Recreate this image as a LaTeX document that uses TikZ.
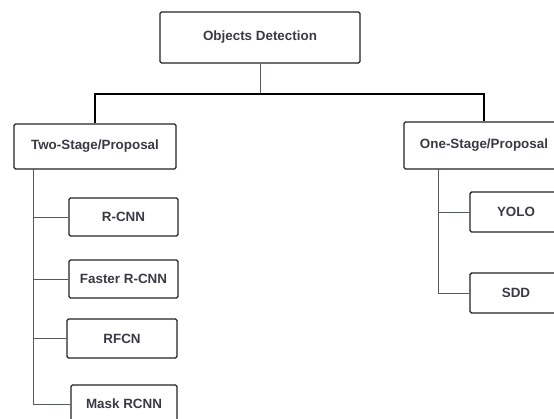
\documentclass[tikz,border=0pt]{standalone}
\usepackage{fontspec}
\setmainfont{Liberation Sans}
\definecolor{txt}{HTML}{3A3A44}
\definecolor{edge}{HTML}{222222}
\definecolor{conn}{HTML}{555A60}
\tikzset{
  box/.style={draw=edge, line width=1.4pt, rounded corners=1.5pt, fill=white,
    inner sep=0pt, font=\fontsize{13.4}{15}\selectfont\bfseries, text=txt},
  thinline/.style={draw=conn, line width=1pt},
  busline/.style={draw=black, line width=2.6pt},
}
\begin{document}
\begin{tikzpicture}[x=1pt,y=-1pt]
\useasboundingbox (0,0) rectangle (554,418);
\clip (0,0) rectangle (554,418);
\fill[white] (0,0) rectangle (554,418);
% nodes
\node[box, minimum width=200pt, minimum height=51pt] (top) at (260,37.5) {Objects Detection};
\node[box, minimum width=162pt, minimum height=45pt] (two) at (95,146.5) {Two-Stage/Proposal};
\node[box, minimum width=160pt, minimum height=47pt] (one) at (484,145.5) {One-Stage/Proposal};
\node[box, minimum width=109pt, minimum height=38pt] (rcnn) at (123.5,217) {R-CNN};
\node[box, minimum width=109pt, minimum height=38pt] (faster) at (123.5,279) {Faster R-CNN};
\node[box, minimum width=110pt, minimum height=39pt] (rfcn) at (122,338.5) {RFCN};
\node[box, minimum width=106pt, minimum height=38pt] (mask) at (124,404) {Mask RCNN};
\node[box, minimum width=92pt, minimum height=40pt] (yolo) at (516,212) {YOLO};
\node[box, minimum width=92pt, minimum height=40pt] (sdd) at (516,293) {SDD};
% helper coordinates
\coordinate (bus) at (260,94);
\coordinate (tl) at (33,169);
\coordinate (tr) at (438,169);
% connectors
\draw[thinline] (top.south) -- (top.south |- bus);
\draw[busline, line join=miter] (two.north) -- (two.north |- bus) -- (one.north |- bus) -- (one.north);
\draw[thinline] (tl) |- (mask.west);
\draw[thinline] (tl) |- (rcnn.west);
\draw[thinline] (tl) |- (faster.west);
\draw[thinline] (tl) |- (rfcn.west);
\draw[thinline] (tr) |- (sdd.west);
\draw[thinline] (tr) |- (yolo.west);
\end{tikzpicture}
\end{document}
